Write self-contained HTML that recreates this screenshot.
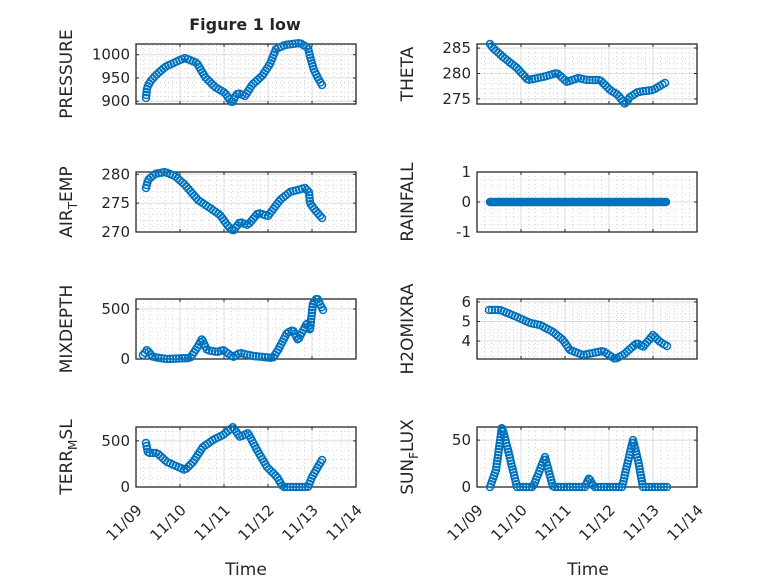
<!DOCTYPE html>
<html><head><meta charset="utf-8"><style>
html,body{margin:0;padding:0;background:#fff;}
svg text{font-family:"DejaVu Sans","Liberation Sans",sans-serif;fill:#262626;}
</style></head><body>
<svg id="s" width="778" height="583" xmlns="http://www.w3.org/2000/svg">
<rect width="778" height="583" fill="#fff"/>
<text x="245" y="30" font-size="16" font-weight="bold" text-anchor="middle" fill="#000">Figure 1 low</text>
</svg>
<script>
var S=document.getElementById('s'),NS='http://www.w3.org/2000/svg';
function el(t,a,txt){var e=document.createElementNS(NS,t);for(var k in a)e.setAttribute(k,a[k]);if(txt!==undefined)e.textContent=txt;S.appendChild(e);return e;}
var axes=[
{x:136,y:44,lo:894,hi:1023,ticks:[900,950,1000],minor:10,lab:'PRESSURE',
 d:[[146,98],[147,88],[150,82],[155,76],[165,67],[180,60],[185,58],[197,63],[205,77],[215,87],[225,93],[232,103],[235,97],[238,93],[245,96],[252,85],[262,76],[270,64],[276,49],[285,45],[300,43],[308,48],[311,60],[314,70],[318,78],[322,85]]},
{x:136,y:172,lo:270,hi:280.4,ticks:[270,275,280],minor:1,lab:'AIR<sub>T</sub>EMP',
 d:[[146,188],[148,180],[155,174],[165,172],[175,176],[185,185],[198,200],[210,208],[220,215],[228,226],[233,231],[240,222],[248,225],[258,213],[268,216],[280,200],[290,192],[305,188],[309,192],[310,203],[315,210],[322,218]]},
{x:136,y:299,lo:0,hi:600,ticks:[0,500],minor:100,lab:'MIXDEPTH',
 d:[[143,355],[147,350],[153,357],[167,359],[190,358],[197,348],[202,339],[207,350],[217,352],[223,350],[233,357],[240,353],[253,356],[273,358],[278,350],[287,333],[293,330],[298,340],[307,323],[310,330],[313,303],[317,298],[323,310]]},
{x:136,y:427,lo:0,hi:650,ticks:[0,500],minor:100,lab:'TERR<sub>M</sub>SL',xl:1,
 d:[[146,443],[148,453],[157,453],[167,462],[185,470],[193,462],[203,447],[213,440],[223,435],[233,427],[240,437],[248,433],[257,450],[267,467],[277,477],[283,487],[308,487],[312,477],[322,460]]},
{x:477,y:44,lo:274,hi:285.8,ticks:[275,280,285],minor:1,lab:'THETA',
 d:[[490,44],[493,48],[503,57],[517,68],[528,80],[543,77],[557,73],[567,82],[578,78],[587,80],[600,80],[610,90],[618,95],[625,104],[630,97],[638,92],[653,90],[658,87],[665,83]]},
{x:477,y:172,lo:-1,hi:1,ticks:[-1,0,1],minor:0.25,lab:'RAINFALL',sp:1,
 d:[[490,202],[666,202]]},
{x:477,y:299,lo:3.08,hi:6.15,ticks:[4,5,6],minor:0.2,lab:'H2OMIXRA',
 d:[[489,310],[500,310],[517,317],[530,323],[540,325],[553,332],[563,340],[570,350],[583,355],[603,351],[615,359],[623,355],[637,343],[643,347],[653,335],[660,342],[667,346]]},
{x:477,y:427,lo:0,hi:64,ticks:[0,50],minor:10,lab:'SUN<sub>F</sub>LUX',xl:1,
 d:[[490,487],[496,470],[502,427],[508,450],[517,487],[533,487],[545,457],[553,487],[585,487],[589,478],[594,487],[622,487],[633,440],[638,460],[643,487],[667,487]]}
];
var W=220,H=60;
axes.forEach(function(a,i){
 function Y(v){return a.y+H-(v-a.lo)/(a.hi-a.lo)*H;}
 el('rect',{x:a.x,y:a.y,width:W,height:H,fill:'#fff'});
 for(var d=0;d<5;d++)for(var m=1;m<6;m++){var xx=a.x+44*(d+m/6);el('line',{x1:xx,x2:xx,y1:a.y,y2:a.y+H,stroke:'#b8b8b8','stroke-width':0.6,'stroke-dasharray':'1 3'});}
 var st=Math.ceil(a.lo/a.minor)*a.minor;
 for(var v=st;v<=a.hi+1e-9;v+=a.minor){var yy=Y(v);el('line',{x1:a.x,x2:a.x+W,y1:yy,y2:yy,stroke:'#b8b8b8','stroke-width':0.6,'stroke-dasharray':'1 3'});}
 for(var d=1;d<5;d++){var xx=a.x+44*d;el('line',{x1:xx,x2:xx,y1:a.y,y2:a.y+H,stroke:'#dcdcdc','stroke-width':1});}
 a.ticks.forEach(function(t){var yy=Y(t);el('line',{x1:a.x,x2:a.x+W,y1:yy,y2:yy,stroke:'#dcdcdc','stroke-width':1});
  el('line',{x1:a.x,x2:a.x+3,y1:yy,y2:yy,stroke:'#262626'});el('line',{x1:a.x+W-3,x2:a.x+W,y1:yy,y2:yy,stroke:'#262626'});
  el('text',{x:a.x-6,y:yy+5,'font-size':15,'text-anchor':'end'},String(t));});
 for(var d=0;d<=5;d++){var xx=a.x+44*d;el('line',{x1:xx,x2:xx,y1:a.y,y2:a.y+3,stroke:'#262626'});el('line',{x1:xx,x2:xx,y1:a.y+H-3,y2:a.y+H,stroke:'#262626'});
  if(a.xl){var tx=xx+7,ty=a.y+H+24;el('text',{x:tx,y:ty,'font-size':15,'text-anchor':'end',transform:'rotate(-45 '+tx+' '+ty+')'},'11/'+(d<1?'09':(9+d)));}}
 el('rect',{x:a.x,y:a.y,width:W,height:H,fill:'none',stroke:'#262626','stroke-width':1.3});
 var lx=(a.x<300?72:413),ly=a.y+H/2;
 var t=el('text',{x:lx,y:ly,'font-size':17,'text-anchor':'middle',transform:'rotate(-90 '+lx+' '+ly+')'});
 var parts=a.lab.split(/<sub>|<\/sub>/);
 parts.forEach(function(p,j){if(!p)return;var ts=document.createElementNS(NS,'tspan');ts.textContent=p;
  if(j==1){ts.setAttribute('dy','5');ts.setAttribute('font-size','12');}else if(j==2){ts.setAttribute('dy','-5');}
  t.appendChild(ts);});
 var pts=a.d,L=[0];for(var k=1;k<pts.length;k++){L.push(L[k-1]+Math.hypot(pts[k][0]-pts[k-1][0],pts[k][1]-pts[k-1][1]));}
 var tot=L[L.length-1],n=Math.max(40,Math.round(tot/(a.sp||3))),g='';
 for(var s=0;s<=n;s++){var q=tot*s/n,k=1;while(k<L.length-1&&L[k]<q)k++;var f=(q-L[k-1])/((L[k]-L[k-1])||1);
  var px=pts[k-1][0]+f*(pts[k][0]-pts[k-1][0]),py=pts[k-1][1]+f*(pts[k][1]-pts[k-1][1]);
  g+='M'+(px+3.5).toFixed(1)+' '+py.toFixed(1)+'a3.5 3.5 0 1 0 -7 0a3.5 3.5 0 1 0 7 0';}
 el('path',{d:g,fill:'none',stroke:'#0072BD','stroke-width':1.5});
});
el('text',{x:246,y:575,'font-size':17,'text-anchor':'middle'},'Time');
el('text',{x:588,y:575,'font-size':17,'text-anchor':'middle'},'Time');
</script>
</body></html>
